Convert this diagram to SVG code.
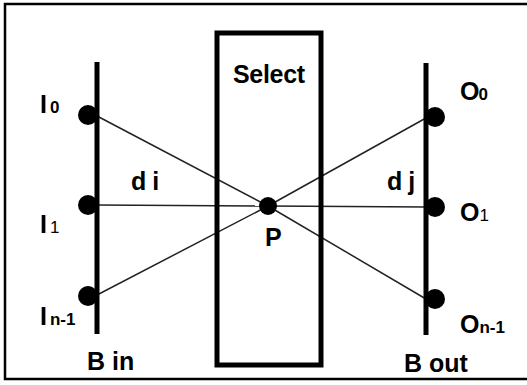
<svg xmlns="http://www.w3.org/2000/svg" width="527" height="385" viewBox="0 0 527 385">
<style>
.lbl{font-family:"Liberation Sans",Arial,sans-serif;font-weight:bold;font-size:25px;fill:#000}
.sub{font-size:17px}
.bus{stroke:#000;stroke-width:5;fill:none}
.dot{fill:#000}
.wire{stroke:#222;stroke-width:1.5;fill:none}
</style>
<rect x="0" y="0" width="527" height="385" fill="#fff"/>
<rect id="frame" x="5" y="4" width="524" height="375" fill="none" stroke="#000" stroke-width="2.5"/>
<g id="connectors">
<line class="wire" x1="97" y1="116" x2="268" y2="206"/>
<line class="wire" x1="268" y1="206" x2="426" y2="299"/>
<line class="wire" x1="97" y1="205" x2="268" y2="206"/>
<line class="wire" x1="268" y1="206" x2="426" y2="207"/>
<line class="wire" x1="97" y1="295" x2="268" y2="206"/>
<line class="wire" x1="268" y1="206" x2="426" y2="118"/>
</g>
<g id="select">
<rect x="217" y="33" width="104" height="332" fill="none" stroke="#000" stroke-width="5"/>
<text class="lbl" x="233" y="83" letter-spacing="-0.3">Select</text>
</g>
<g id="bus-in">
<line class="bus" x1="97" y1="62" x2="97" y2="334"/>
<text class="lbl" x="87" y="370">B in</text>
</g>
<g id="bus-out">
<line class="bus" x1="426" y1="63" x2="426" y2="335"/>
<text class="lbl" x="404" y="372">B out</text>
</g>
<g id="I0"><circle class="dot" cx="88" cy="115" r="10"/><text class="lbl" x="40" y="113">I<tspan class="sub" dx="3">0</tspan></text></g>
<g id="I1"><circle class="dot" cx="88" cy="205" r="10"/><text class="lbl" x="40" y="233">I<tspan class="sub" dx="3" font-weight="normal">1</tspan></text></g>
<g id="In-1"><circle class="dot" cx="88" cy="296" r="10"/><text class="lbl" x="40" y="325">I<tspan class="sub" dx="3">n-1</tspan></text></g>
<g id="O0"><circle class="dot" cx="435" cy="117" r="10"/><text class="lbl" x="460" y="100">O<tspan class="sub" dx="-1">0</tspan></text></g>
<g id="O1"><circle class="dot" cx="435" cy="207" r="10"/><text class="lbl" x="460" y="221">O<tspan class="sub" dx="0" font-weight="normal">1</tspan></text></g>
<g id="On-1"><circle class="dot" cx="435" cy="299" r="10"/><text class="lbl" x="460" y="333" font-weight="normal" font-size="22">O<tspan class="sub" dx="0">n-1</tspan></text></g>
<g id="P"><circle class="dot" cx="268" cy="206" r="9"/><text class="lbl" x="265" y="246" font-size="20">P</text></g>
<g id="di"><text class="lbl" x="131" y="190">d<tspan dx="6">i</tspan></text></g>
<g id="dj"><text class="lbl" x="387" y="190">d<tspan dx="6">j</tspan></text></g>
</svg>
